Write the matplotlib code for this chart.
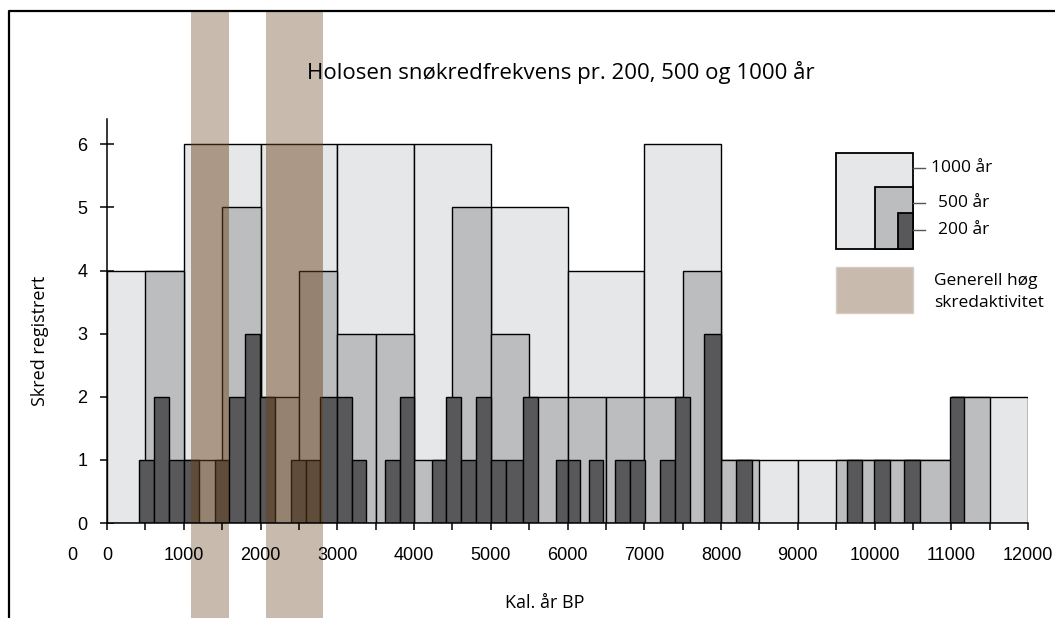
import matplotlib
matplotlib.use("Agg")
import matplotlib.pyplot as plt
import matplotlib.transforms as mtransforms
from matplotlib.patches import Rectangle
from matplotlib.lines import Line2D

# avalanches per 1000 years
k1000_left = [0, 1000, 2000, 3000, 4000, 5000, 6000, 7000, 8000, 9000, 10000, 11000]
k1000_count = [4, 6, 6, 6, 6, 5, 4, 6, 1, 1, 1, 2]

# avalanches per 500 years
k500_left = list(range(0, 12000, 500))
k500_count = [0, 4, 1, 5, 2, 4, 3, 3, 1, 5, 3, 2, 2, 2, 2, 4, 1, 0, 0, 1, 1, 1, 2, 0]

# avalanches per 200 years (edges as drawn in the original figure)
k200_start = [420, 612, 812, 1008, 1407, 1590, 1798, 1993, 2393, 2589, 2775, 2995,
              3196, 3617, 3813, 4230, 4422, 4617, 4813, 5000, 5196, 5422, 5852, 6010,
              6280, 6615, 6815, 7207, 7395, 7785, 8195, 9636, 9996, 10386, 10980]
k200_end = [612, 812, 1008, 1203, 1590, 1798, 1993, 2189, 2589, 2775, 2995, 3196,
            3378, 3813, 4000, 4422, 4617, 4813, 5000, 5196, 5422, 5622, 6010, 6160,
            6460, 6815, 7005, 7395, 7595, 8000, 8400, 9840, 10200, 10590, 11170]
k200_count = [1, 2, 1, 1, 1, 2, 3, 2, 1, 1, 2, 2,
              1, 1, 2, 1, 2, 1, 2, 1, 1, 2, 1, 1,
              1, 1, 1, 1, 2, 3, 1, 1, 1, 1, 2]

# periods with generally high avalanche activity
band_start = [1100, 2070]
band_end = [1590, 2815]

x_ticks = list(range(0, 12001, 500))
x_labels = [str(t) if t % 1000 == 0 else "" for t in x_ticks]
y_ticks = [0, 1, 2, 3, 4, 5, 6]

LIGHT = "#e6e7e9"
MED = "#bcbdbf"
DARK = "#58585a"
BAND = "#c8baad"
SHADE = "#6b401a"

W, H = 1055, 618
fig = plt.figure(figsize=(W / 100, H / 100), dpi=100)


def fx(px):
    return px / W


def fy(py):
    return 1 - py / H


ax = fig.add_axes([fx(107), fy(523), fx(1028) - fx(107), fy(119) - fy(523)])
ax.set_xlim(0, 12000)
ax.set_ylim(0, 6.4)

# bars, coarsest first
w1000 = [1000] * len(k1000_left)
ax.bar(k1000_left, k1000_count, width=w1000, align="edge", color=LIGHT,
       edgecolor="black", linewidth=1.0, zorder=2)
l500 = [l for l, c in zip(k500_left, k500_count) if c > 0]
c500 = [c for c in k500_count if c > 0]
ax.bar(l500, c500, width=500, align="edge", color=MED,
       edgecolor="black", linewidth=1.0, zorder=3)
w200 = [e - s for s, e in zip(k200_start, k200_end)]
ax.bar(k200_start, k200_count, width=w200, align="edge", color=DARK,
       edgecolor="black", linewidth=1.0, zorder=4)

# high-activity bands: pale behind everything, tinted over the bars
blend = mtransforms.blended_transform_factory(ax.transData, fig.transFigure)
for s, e in zip(band_start, band_end):
    ax.add_patch(Rectangle((s, 0), e - s, fy(12), transform=blend, color=BAND,
                           lw=0, zorder=0.5, clip_on=False))
    ax.add_patch(Rectangle((s, 0), e - s, 6, color=SHADE, alpha=0.47, lw=0, zorder=5))

for side in ["top", "right"]:
    ax.spines[side].set_visible(False)
ax.spines["left"].set_linewidth(1.1)
ax.spines["bottom"].set_linewidth(1.1)
ax.spines["left"].set_zorder(6)
ax.spines["bottom"].set_zorder(6)
ax.patch.set_alpha(0)

ax.set_xticks(x_ticks)
ax.set_xticklabels(x_labels, fontfamily="Liberation Sans", fontsize=13)
ax.set_yticks(y_ticks)
ax.set_yticklabels([str(t) for t in y_ticks], fontfamily="Liberation Sans", fontsize=13)
ax.tick_params(axis="x", direction="out", length=5, width=1.1, pad=12)
ax.tick_params(axis="y", direction="inout", length=10, width=1.1, pad=9)

txt = dict(family="Open Sans", color="black")
fig.text(fx(561), fy(73), "Holosen snøkredfrekvens pr. 200, 500 og 1000 år",
         ha="center", va="center", fontsize=16, **txt)
fig.text(fx(40), fy(341), "Skred registrert", rotation=90, ha="center", va="center",
         fontsize=13, **txt)
fig.text(fx(545), fy(603), "Kal. år BP", ha="center", va="center", fontsize=13, **txt)
fig.text(fx(72), fy(556), "0", ha="center", va="center", fontsize=13,
         family="Liberation Sans")

# legend drawn by hand
def box(x0, y0, x1, y1, fc, ec="black", lw=1.3):
    fig.add_artist(Rectangle((fx(x0), fy(y1)), fx(x1) - fx(x0), fy(y0) - fy(y1),
                             transform=fig.transFigure, facecolor=fc, edgecolor=ec,
                             linewidth=lw))


box(836, 153, 913, 249, LIGHT)
box(875, 187, 913, 249, MED)
box(898, 213, 913, 249, DARK)
box(836, 267, 913, 313, BAND, ec="#d6ccc3", lw=1.0)
for yy in [168, 203, 230]:
    fig.add_artist(Line2D([fx(913), fx(925)], [fy(yy), fy(yy)],
                          transform=fig.transFigure, color="#555555", lw=1.0))
fig.text(fx(931), fy(168), "1000 år", ha="left", va="center", fontsize=12.5, **txt)
fig.text(fx(938), fy(203), "500 år", ha="left", va="center", fontsize=12.5, **txt)
fig.text(fx(938), fy(230), "200 år", ha="left", va="center", fontsize=12.5, **txt)
fig.text(fx(934), fy(281), "Generell høg", ha="left", va="center", fontsize=12.5, **txt)
fig.text(fx(934), fy(303), "skredaktivitet", ha="left", va="center", fontsize=12.5, **txt)

# outer frame (left and top edges)
fig.add_artist(Line2D([fx(9), fx(9), fx(1055)], [fy(618), fy(11), fy(11)],
                      transform=fig.transFigure, color="black", lw=1.6))

fig.savefig("out.png", dpi=100)
